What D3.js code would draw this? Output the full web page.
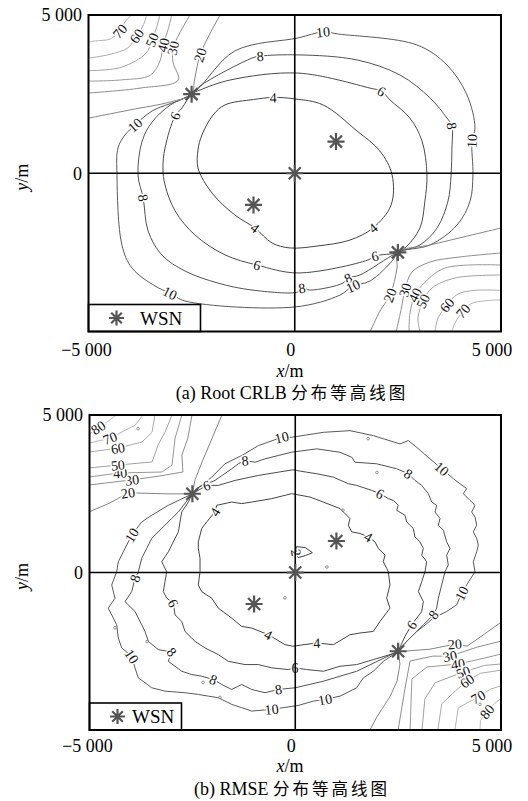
<!DOCTYPE html>
<html>
<head>
<meta charset="utf-8">
<script src="https://cdn.jsdelivr.net/npm/d3@7"></script>
<style>
  body { margin: 0; background: #fff; }
  text { font-family: "Liberation Serif", "Times New Roman", serif; }
</style>
</head>
<body>
<svg id="chart" width="528" height="801"></svg>
<script>
// ---------- axis ticks ----------
const xTickValues = [-5000, 0, 5000];
const xTickLabels = ["\u22125 000", "0", "5 000"];
const yTickValues = [5000, 0];
const yTickLabels = ["5 000", "0"];

// ---------- sensor (WSN) positions, metres ----------
const sensorX = [-2500, 1000, 0, -1000, 2500];
const sensorY = [2500, 1000, 0, -1000, -2500];

// ---------- captions ----------
const captionLatin = ["(a) Root CRLB ", "(b) RMSE "];
const captionCJK = ["分布等高线图", "分布等高线图"];

// ---------- (a) Root CRLB contour lines, metres; a third entry 1 marks a label ----------
const crlb4 = [[0,2350],[685,2160],[1510,1335],[2065,700],[2360,-55],[2335,-1005],[1895,-1730,1],[1340,-2110],[540,-2300],[-115,-2360],[-550,-2205],[-965,-1730,1],[-1450,-1320],[-2005,-625],[-2345,165],[-2345,735],[-2250,1210],[-1980,1840],[-1690,2160],[-1000,2330],[-525,2395,1]];
const crlb6 = [[-2500,2500],[-2295,2630],[-1570,2945],[80,3165],[1825,2690],[2105,2590,1],[2310,2315],[2790,1745],[3085,1020],[3205,-55],[3155,-880],[3035,-1730],[2720,-2300],[2500,-2500],[1945,-2615,1],[1775,-2740],[80,-3150],[-915,-2900,1],[-1690,-2580],[-2420,-1950],[-2900,-1190],[-3145,-370],[-3195,165],[-3145,800],[-2900,1810,1],[-2735,2060]];
const crlb8 = [[-2500,2500],[-2295,2760],[-1035,3640],[-840,3700,1],[80,3740],[1510,3580],[2550,3105],[3280,2380],[3690,1745],[3810,1495,1],[3810,800],[3790,-55],[3715,-880],[3450,-1730],[3035,-2265],[2500,-2500],[1580,-3215],[1290,-3310,1],[1170,-3470],[370,-3690],[175,-3630,1],[80,-3750],[-1035,-3690],[-1860,-3470],[-2660,-3090],[-3220,-2585],[-3555,-1825],[-3675,-780,1],[-3800,-55],[-3700,1015],[-3460,1615],[-3025,2150]];
const crlb10 = [[-2500,2500],[-1450,3865],[80,4275],[685,4465,1],[1050,4400],[2960,4055],[3690,3420],[4175,2475],[4370,1430],[4295,1020,1],[4320,-55],[4250,-880],[3935,-1635],[3280,-2265],[2500,-2500],[2380,-2740],[1825,-3405],[1410,-3565,1],[1095,-3850],[0,-4225],[-2660,-4035],[-3025,-3785,1],[-3385,-3565],[-3945,-2995],[-4190,-2270],[-4310,-55],[-4285,800],[-4115,1210],[-3870,1525,1],[-3460,1965]];
// corner fans (open lines)
const crlb20a = [[-1810,5000],[-2060,4400],[-2295,3735,1],[-2430,2950],[-2500,2500],[-3025,2250],[-4000,2000],[-5000,1740]];
const crlb30a = [[-2540,5000],[-2800,4400],[-2950,3955,1],[-2950,3500],[-2825,2945],[-3750,2690],[-5000,2535]];
const crlb40a = [[-2980,5000],[-3080,4500],[-3190,4050,1],[-3265,3550],[-3500,3100],[-4200,2950],[-5000,2910]];
const crlb50a = [[-3270,5000],[-3350,4600],[-3460,4210,1],[-3600,3800],[-4200,3350],[-5000,3240]];
const crlb60a = [[-3590,5000],[-3680,4650],[-3830,4340,1],[-4042,3965],[-4500,3750],[-5000,3640]];
const crlb70a = [[-3960,5000],[-4115,4780],[-4240,4490,1],[-4478,4242],[-4840,4180],[-5000,4147]];
const crlb20b = [[1830,-5000],[2066,-4353],[2310,-3850,1],[2479,-2994],[2500,-2500],[3280,-2265],[5000,-1730]];
const crlb30b = [[2460,-5000],[2575,-4330],[2672,-3690,1],[2842,-3120],[3280,-2805],[4005,-2645],[5000,-2520]];
const crlb40b = [[2770,-5000],[2794,-4420],[2915,-3850,1],[3160,-3440],[3640,-2995],[5000,-2900]];
const crlb50b = [[3036,-5000],[2987,-4575],[3110,-4040,1],[3327,-3626],[3885,-3310],[5000,-3215]];
const crlb60b = [[3400,-5000],[3474,-4575],[3690,-4165,1],[3957,-3815],[4370,-3700],[5000,-3700]];
const crlb70b = [[3812,-5000],[3885,-4732],[4080,-4355,1],[4296,-4108],[5000,-4000]];

// ---------- (b) RMSE contour lines, metres ----------
const rmse2 = [[25,820],[245,790],[415,630],[245,535],[70,475],[25,630,1]];
const rmse4 = [[-1950,1921,1],[-1909,2133],[-1544,2237],[-1301,2187],[-1058,2237],[-572,2345],[-86,2503],[358,2395],[682,2237],[1088,2029],[1209,1871],[1330,1713],[1290,1501],[1372,1289],[1573,1239],[1776,1131,1],[1938,973],[2019,765],[2181,553],[2140,341],[2222,133],[2262,25],[2302,-395],[2222,-815],[2302,-1131],[2059,-1555],[1897,-1871],[1573,-1921],[1330,-1975],[926,-2291],[521,-2237,1],[-60,-2340],[-249,-2291],[-654,-1975,1],[-1058,-1763],[-1301,-1713],[-1544,-1447],[-1870,-1131],[-2030,-815],[-2273,-607],[-2356,-395],[-2314,25],[-2314,449],[-2356,765],[-2356,973],[-2273,1397],[-2152,1605]];
const rmse6 = [[-2500,2500],[-2152,2765,1],[-1870,2765],[-1464,2923],[-897,3081],[-411,3185],[-60,3260],[278,3185],[521,3135],[926,3027],[1290,2819],[1494,2765],[1858,2607],[2059,2503,1],[2262,2345],[2383,2291],[2504,2133],[2465,1975],[2667,1817],[2708,1605],[2869,1397],[2910,1131],[3031,973],[3113,765],[3073,553],[3194,341],[3153,25],[3073,-291],[2991,-607],[3113,-923],[3073,-1239],[2829,-1659,1],[2667,-2029],[2500,-2500],[2302,-2607],[1897,-2765],[1494,-2923],[1088,-2977],[682,-3135],[278,-3081],[-6,-3027,1],[-169,-3081],[-572,-3027],[-897,-2923],[-1221,-2923],[-1626,-2819],[-1870,-2607],[-2193,-2395],[-2436,-2187],[-2679,-1871],[-2759,-1555],[-2922,-1343],[-2963,-973,1],[-3124,-815],[-3206,-607],[-3165,-291],[-3124,25],[-3245,341],[-3085,657],[-3003,869],[-2841,1289],[-2800,1605],[-2759,1921],[-2598,2237]];
const rmse8 = [[-2500,2500],[-2314,2727],[-1950,2923],[-1544,3293],[-1382,3451],[-1221,3555,1],[-978,3501],[-735,3608],[-412,3713],[-100,3817],[521,3925],[1088,3817],[1372,3659],[1452,3501],[1979,3451],[2465,3293],[2748,3135,1],[2910,2923],[3073,2765],[3234,2503],[3316,2237],[3437,2133],[3396,1921],[3517,1713],[3477,1501],[3598,1343],[3680,973],[3760,765],[3680,553],[3719,237],[3640,25],[3559,-395],[3477,-815],[3437,-1131],[3356,-1343,1],[3113,-1659],[2870,-1975],[2627,-2291],[2500,-2500],[1494,-3135],[682,-3451],[0,-3659],[-412,-3713,1],[-735,-3817],[-1058,-3713],[-1301,-3555],[-1544,-3713],[-1787,-3555],[-1991,-3397,1],[-2273,-3293],[-2516,-3239],[-2759,-3135],[-2922,-2977],[-3085,-2819],[-3003,-2522,1],[-3327,-2449],[-3570,-2187],[-3651,-1871],[-3731,-1659],[-3894,-1239],[-4137,-923],[-3974,-607],[-3894,-183,1],[-3813,25],[-3731,449],[-3610,765],[-3488,1081],[-3245,1397],[-3003,1713],[-2841,1921]];
const rmse10 = [[-2500,2500],[-2436,2607],[-2030,3027],[-1707,3451],[-1301,3713],[-897,4029],[-329,4291,1],[-100,4290],[682,4450],[1330,4503],[1897,4345],[2545,4083],[2748,4187],[2951,3975],[3274,3608],[3559,3293,1],[3842,2977],[4003,2819],[4166,2661],[4084,2503],[4246,2291],[4368,2133],[4287,1921],[4368,1763],[4409,1501],[4327,1289],[4409,1081],[4449,869],[4409,657],[4327,341],[4368,25],[4166,-395],[4044,-657,1],[3923,-1027],[3680,-1239],[3356,-1447],[3113,-1713],[2951,-1871],[2708,-2187],[2500,-2500],[2385,-2607],[2142,-2819],[1897,-3135],[1654,-3345],[1494,-3659],[1088,-3925],[723,-4029,1],[439,-4083],[74,-4220],[-572,-4345,1],[-1058,-4399],[-1301,-4291],[-1544,-4187],[-1870,-3975],[-2112,-3925],[-2356,-3871],[-2679,-3817],[-3165,-3767],[-3488,-3659],[-3814,-3345],[-3894,-3027],[-3974,-2661,1],[-4217,-2395],[-4300,-2079],[-4339,-1659],[-4543,-1131],[-4380,-815],[-4460,-395],[-4339,25],[-4300,341],[-4137,765],[-3974,1185,1],[-3731,1605],[-3488,1817],[-3085,2133]];
const rmse20a = [[-1780,5000],[-2020,4265],[-2265,3510],[-2435,2940],[-2500,2500],[-3045,2495],[-4065,2530,1],[-4500,2210],[-5000,1930]];
const rmse30a = [[-2510,5000],[-2610,4265],[-2755,3730],[-2730,3190],[-3290,3065],[-3965,2940,1],[-5000,2780]];
const rmse40a = [[-2755,5000],[-2920,4265],[-2995,3410],[-3240,3190],[-4255,3160,1],[-5000,3035]];
const rmse50a = [[-2995,5000],[-3165,4455],[-3335,4045],[-3480,3510],[-4310,3410,1],[-5000,3320]];
const rmse60a = [[-3410,5000],[-3480,4455],[-3725,4140],[-4310,3950,1],[-5000,3825]];
const rmse70a = [[-3700,5000],[-3895,4675],[-4500,4265,1],[-5000,4110]];
const rmse80a = [[-4350,5000],[-4550,4800],[-4790,4600,1],[-5000,4400]];
const rmse20b = [[1815,-5000],[1985,-4580],[2300,-3950],[2475,-3445],[2545,-2905],[2500,-2500],[2620,-2500],[3275,-2435],[3880,-2275,1],[4175,-2340],[4490,-2055],[5000,-1580]];
const rmse30b = [[2500,-5000],[2665,-3695],[2790,-2810],[3345,-2655],[3760,-2655,1],[4420,-2370],[5000,-2180]];
const rmse40b = [[2790,-5000],[2835,-3380],[3200,-3000],[3955,-2905,1],[4490,-2750],[5000,-2590]];
const rmse50b = [[3080,-5000],[3150,-4015],[3400,-3500],[4080,-3160,1],[4600,-2950],[5000,-2905]];
const rmse60b = [[3465,-5000],[3560,-4170],[3900,-3750],[4175,-3445,1],[4500,-3200],[5000,-3100]];
const rmse70b = [[3880,-5000],[3960,-4300],[4445,-3950,1],[4750,-3700],[5000,-3600]];
const rmse80b = [[4490,-5000],[4500,-4700],[4660,-4420,1],[4850,-4150],[5000,-4000]];
// isolated tiny islands of the noisy RMSE surface
const rmseSpecks = [[-3820,4565],[1770,4250],[1985,3175],[1160,1975],[770,175],[-250,-805],[-4380,-1755],[-3600,-2195],[-2240,-3490],[-1830,-3965],[4490,-4185]];

const crlbLines = [
  {level:4, pts:crlb4, closed:true}, {level:6, pts:crlb6, closed:true},
  {level:8, pts:crlb8, closed:true}, {level:10, pts:crlb10, closed:true},
  {level:20, pts:crlb20a}, {level:30, pts:crlb30a}, {level:40, pts:crlb40a},
  {level:50, pts:crlb50a}, {level:60, pts:crlb60a}, {level:70, pts:crlb70a},
  {level:20, pts:crlb20b}, {level:30, pts:crlb30b}, {level:40, pts:crlb40b},
  {level:50, pts:crlb50b}, {level:60, pts:crlb60b}, {level:70, pts:crlb70b}
];
const rmseLines = [
  {level:2, pts:rmse2, closed:true},
  {level:4, pts:rmse4, closed:true}, {level:6, pts:rmse6, closed:true},
  {level:8, pts:rmse8, closed:true}, {level:10, pts:rmse10, closed:true},
  {level:20, pts:rmse20a}, {level:30, pts:rmse30a}, {level:40, pts:rmse40a},
  {level:50, pts:rmse50a}, {level:60, pts:rmse60a}, {level:70, pts:rmse70a}, {level:80, pts:rmse80a},
  {level:20, pts:rmse20b}, {level:30, pts:rmse30b}, {level:40, pts:rmse40b},
  {level:50, pts:rmse50b}, {level:60, pts:rmse60b}, {level:70, pts:rmse70b}, {level:80, pts:rmse80b}
];

// ---------- drawing ----------
const svg = d3.select("#chart");
const lineGray = d3.scaleLinear().domain([2, 10, 20, 80])
  .range(["#3c3c3c", "#5a5a5a", "#858585", "#bdbdbd"]).clamp(true);

function asterisk(g, cx, cy, r) {
  const d = r * Math.SQRT1_2;
  g.append("path")
    .attr("d", `M${cx - r},${cy}H${cx + r}M${cx},${cy - r}V${cy + r}` +
               `M${cx - d},${cy - d}L${cx + d},${cy + d}M${cx - d},${cy + d}L${cx + d},${cy - d}`)
    .attr("stroke", "#555").attr("stroke-width", 2.2).attr("fill", "none");
}

function drawPanel(idx, frame, lines, curve, legend, specks) {
  const g = svg.append("g");
  const x = d3.scaleLinear().domain([-5000, 5000]).range([frame.left, frame.right]);
  const y = d3.scaleLinear().domain([-5000, 5000]).range([frame.bottom, frame.top]);
  const clipId = "clip" + idx;
  g.append("clipPath").attr("id", clipId).append("rect")
    .attr("x", frame.left).attr("y", frame.top)
    .attr("width", frame.right - frame.left).attr("height", frame.bottom - frame.top);

  const cg = g.append("g").attr("clip-path", `url(#${clipId})`);
  lines.forEach(l => {
    const gen = d3.line().x(d => x(d[0])).y(d => y(d[1]))
      .curve(l.closed ? curve.closed : curve.open);
    cg.append("path").attr("d", gen(l.pts)).attr("fill", "none")
      .attr("stroke", lineGray(l.level)).attr("stroke-width", 1);
  });
  specks.forEach(s => {
    cg.append("circle").attr("cx", x(s[0])).attr("cy", y(s[1])).attr("r", 1.3)
      .attr("fill", "none").attr("stroke", "#777").attr("stroke-width", 0.8);
  });
  // contour labels, rotated along the line
  lines.forEach(l => {
    const n = l.pts.length;
    l.pts.forEach((p, i) => {
      if (p[2] !== 1) return;
      const a = l.pts[(i - 1 + n) % n], b = l.pts[(i + 1) % n];
      let ang = Math.atan2(y(b[1]) - y(a[1]), x(b[0]) - x(a[0])) * 180 / Math.PI;
      if (ang > 90) ang -= 180;
      if (ang < -90) ang += 180;
      cg.append("text")
        .attr("transform", `translate(${x(p[0])},${y(p[1])}) rotate(${ang})`)
        .attr("text-anchor", "middle").attr("dy", "0.35em")
        .attr("font-size", 14).attr("fill", "#111")
        .attr("stroke", "#fff").attr("stroke-width", 3).attr("paint-order", "stroke")
        .text(l.level);
    });
  });

  // axis cross lines through the origin
  g.append("line").attr("x1", x(0)).attr("x2", x(0)).attr("y1", frame.top).attr("y2", frame.bottom)
    .attr("stroke", "#000").attr("stroke-width", 1.6);
  g.append("line").attr("x1", frame.left).attr("x2", frame.right).attr("y1", y(0)).attr("y2", y(0))
    .attr("stroke", "#000").attr("stroke-width", 1.6);

  // sensors
  sensorX.forEach((sx, i) => asterisk(g, x(sx), y(sensorY[i]), 8.5));

  // legend
  const lh = 27;
  g.append("rect").attr("x", frame.left).attr("y", frame.bottom - lh)
    .attr("width", legend.w).attr("height", lh)
    .attr("fill", "#fff").attr("stroke", "#000").attr("stroke-width", 1.6);
  asterisk(g, frame.left + 28, frame.bottom - lh / 2, 7.5);
  g.append("text").attr("x", frame.left + legend.textDx).attr("y", frame.bottom - lh / 2)
    .attr("dy", "0.36em").attr("font-size", 19).text("WSN");

  // frame
  g.append("rect").attr("x", frame.left).attr("y", frame.top)
    .attr("width", frame.right - frame.left).attr("height", frame.bottom - frame.top)
    .attr("fill", "none").attr("stroke", "#000").attr("stroke-width", 2);

  // tick labels
  const xDx = [-2, -4, -9];
  xTickValues.forEach((v, i) => {
    g.append("text").attr("x", x(v) + xDx[i]).attr("y", frame.bottom + frame.tickGap)
      .attr("text-anchor", "middle").attr("font-size", 18).text(xTickLabels[i]);
  });
  yTickValues.forEach((v, i) => {
    g.append("text").attr("x", frame.left - 6.5).attr("y", y(v)).attr("dy", "0.35em")
      .attr("text-anchor", "end").attr("font-size", 18).text(yTickLabels[i]);
  });

  // axis titles
  const xt = g.append("text").attr("x", 290).attr("y", frame.bottom + frame.titleGap)
    .attr("text-anchor", "middle").attr("font-size", 18);
  xt.append("tspan").attr("font-style", "italic").text("x");
  xt.append("tspan").text("/m");
  const cy = (frame.top + frame.bottom) / 2 + 4;
  const yt = g.append("text").attr("transform", `translate(28,${cy}) rotate(-90)`)
    .attr("text-anchor", "middle").attr("font-size", 18);
  yt.append("tspan").attr("font-style", "italic").text("y");
  yt.append("tspan").text("/m");

  // caption
  const cap = g.append("text").attr("x", 292).attr("y", frame.bottom + frame.titleGap + frame.capGap)
    .attr("text-anchor", "middle").attr("font-size", 18);
  cap.append("tspan").text(captionLatin[idx]);
  cap.append("tspan").attr("font-family", "'Noto Sans CJK SC', sans-serif")
    .attr("font-size", 16.5).attr("letter-spacing", 3).text(captionCJK[idx]);
}

drawPanel(0, {left: 88.5, right: 501, top: 15, bottom: 331.5, tickGap: 24.5, titleGap: 45.5, capGap: 21.5}, crlbLines,
  {open: d3.curveCatmullRom.alpha(0.5), closed: d3.curveCatmullRomClosed.alpha(0.5)},
  {w: 112, textDx: 51.5}, []);
drawPanel(1, {left: 89.5, right: 501, top: 415, bottom: 730, tickGap: 21.5, titleGap: 41.5, capGap: 23.5}, rmseLines,
  {open: d3.curveLinear, closed: d3.curveLinearClosed},
  {w: 92, textDx: 42.5}, rmseSpecks);
</script>
</body>
</html>
